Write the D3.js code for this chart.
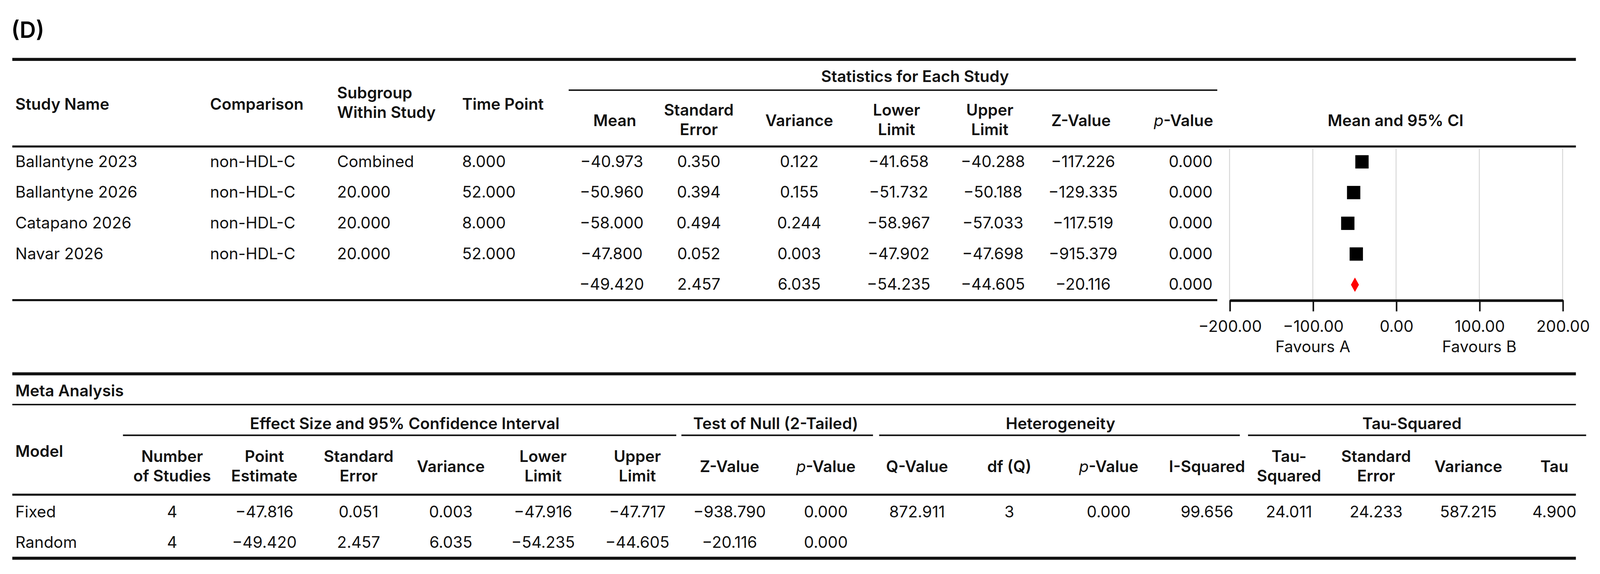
<!DOCTYPE html>
<html><head><meta charset="utf-8">
<script src="https://cdn.jsdelivr.net/npm/d3@7"></script>
<style>body{margin:0;background:#fff}text{font-family:Inter,"Liberation Sans",sans-serif}</style>
</head><body>
<script>
// study data
var studyNames = ["Ballantyne 2023","Ballantyne 2026","Catapano 2026","Navar 2026"];
var comparisons = ["non-HDL-C","non-HDL-C","non-HDL-C","non-HDL-C"];
var subgroups = ["Combined","20.000","20.000","20.000"];
var timePoints = ["8.000","52.000","8.000","52.000"];
var means = [-40.973,-50.960,-58.000,-47.800,-49.420];
var stdErrs = [0.350,0.394,0.494,0.052,2.457];
var variances = [0.122,0.155,0.244,0.003,6.035];
var lowers = [-41.658,-51.732,-58.967,-47.902,-54.235];
var uppers = [-40.288,-50.188,-57.033,-47.698,-44.605];
var zValues = [-117.226,-129.335,-117.519,-915.379,-20.116];
var pValues = [0.000,0.000,0.000,0.000,0.000];
var axisTicks = [-200,-100,0,100,200];

// meta analysis data
var models = ["Fixed","Random"];
var metaRows = [
  ["4","\u221247.816","0.051","0.003","\u221247.916","\u221247.717","\u2212938.790","0.000","872.911","3","0.000","99.656","24.011","24.233","587.215","4.900"],
  ["4","\u221249.420","2.457","6.035","\u221254.235","\u221244.605","\u221220.116","0.000","","","","","","","",""]
];

var W = 1568, H = 560.4;
var svg = d3.select("body").append("svg")
  .attr("width",4113).attr("height",1470)
  .attr("viewBox","0 0 "+W+" "+H);

var fs = 15.5;
function txt(x,y,s,anchor,bold,color){
  return svg.append("text").attr("x",x).attr("y",y)
    .attr("text-anchor",anchor||"start")
    .attr("font-size",fs).attr("font-weight",bold?600:400)
    .attr("fill",color||"#111").text(s);
}
function ptxt(x,y,rest,anchor,bold){
  var t = txt(x,y,"",anchor,bold);
  t.append("tspan").attr("font-style","italic").attr("font-weight",400).text("p");
  t.append("tspan").text(rest);
  return t;
}
function hline(x1,x2,y,w){
  svg.append("line").attr("x1",x1).attr("x2",x2).attr("y1",y).attr("y2",y)
    .attr("stroke","#111").attr("stroke-width",w);
}
var fmt = d3.format(".3f");

svg.append("text").attr("x",11).attr("y",37).attr("font-size",22).attr("font-weight",600).text("(D)");

// Top table
//-----------
hline(12,1538,58,3);
txt(893,80,"Statistics for Each Study","middle",true);
hline(555,1188,88,1.5);
txt(15,107,"Study Name","start",true);
txt(205,107,"Comparison","start",true);
txt(329,96,"Subgroup","start",true);
txt(329,115,"Within Study","start",true);
txt(451,107,"Time Point","start",true);
txt(600,123,"Mean","middle",true);
txt(682,113,"Standard","middle",true); txt(682,132,"Error","middle",true);
txt(780,123,"Variance","middle",true);
txt(875,113,"Lower","middle",true); txt(875,132,"Limit","middle",true);
txt(966,113,"Upper","middle",true); txt(966,132,"Limit","middle",true);
txt(1055,123,"Z-Value","middle",true);
ptxt(1155,123,"-Value","middle",true);
txt(1362,123,"Mean and 95% CI","middle",true);
hline(12,1538,143,2);

var rowY = function(i){ return 163 + i*30; };
means.forEach(function(m,i){
  var y = rowY(i);
  if (i < studyNames.length){
    txt(15,y,studyNames[i]);
    txt(205,y,comparisons[i]);
    txt(329,y,subgroups[i]);
    txt(451,y,timePoints[i]);
  }
  txt(597,y,fmt(m),"middle");
  txt(682,y,fmt(stdErrs[i]),"middle");
  txt(780,y,fmt(variances[i]),"middle");
  txt(877,y,fmt(lowers[i]),"middle");
  txt(969,y,fmt(uppers[i]),"middle");
  txt(1057,y,fmt(zValues[i]),"middle");
  txt(1162,y,fmt(pValues[i]),"middle");
});
hline(12,1188,293,2);

// Forest plot
//-------------
var x = d3.scaleLinear().domain([-200,200]).range([1200,1525]);
svg.append("g").selectAll("line").data(axisTicks).join("line")
  .attr("x1",d=>x(d)).attr("x2",d=>x(d)).attr("y1",145).attr("y2",293)
  .attr("stroke","#d9d9d9").attr("stroke-width",1);
var ax = svg.append("g").attr("transform","translate(0,293)")
  .call(d3.axisBottom(x).tickValues(axisTicks).tickFormat(d3.format(".2f")).tickSize(11).tickSizeOuter(0));
ax.select(".domain").attr("stroke","#111").attr("stroke-width",2.5);
ax.selectAll(".tick line").attr("stroke","#111").attr("stroke-width",1.5);
ax.selectAll(".tick text").attr("font-size",fs).attr("fill","#111").attr("dy","1.1em")
  .attr("font-family","Inter,'Liberation Sans',sans-serif");
txt(x(-100),344,"Favours A","middle");
txt(x(100),344,"Favours B","middle");

var sq = 13;
svg.append("g").selectAll("rect").data(means.slice(0,4)).join("rect")
  .attr("x",d=>x(d)-sq/2).attr("y",(d,i)=>rowY(i)-5-sq/2)
  .attr("width",sq).attr("height",sq).attr("fill","#000");
var dy = rowY(4)-5;
svg.append("path")
  .attr("d","M"+x(lowers[4])+","+dy+"L"+x(means[4])+","+(dy-7)+"L"+x(uppers[4])+","+dy+"L"+x(means[4])+","+(dy+7)+"Z")
  .attr("fill","#f00");

// Meta analysis table
//---------------------
hline(12,1538,365,3);
txt(15,387,"Meta Analysis","start",true);
hline(12,1538,395,1.5);
txt(395,419,"Effect Size and 95% Confidence Interval","middle",true);
hline(120,660,425,1.5);
txt(757,419,"Test of Null (2-Tailed)","middle",true);
hline(665,852,425,1.5);
txt(1035,419,"Heterogeneity","middle",true);
hline(858,1210,425,1.5);
txt(1378,419,"Tau-Squared","middle",true);
hline(1218,1548,425,1.5);
txt(15,446,"Model","start",true);

var metaCols = [168,258,350,440,530,622,712,806,895,985,1082,1178,1258,1343,1433,1517];
var metaHeads = [["Number","of Studies"],["Point","Estimate"],["Standard","Error"],["Variance"],["Lower","Limit"],["Upper","Limit"],["Z-Value"],["p"],["Q-Value"],["df (Q)"],["p"],["I-Squared"],["Tau-","Squared"],["Standard","Error"],["Variance"],["Tau"]];
metaHeads.forEach(function(h,i){
  var cx = metaCols[i];
  if (h[0]==="p") ptxt(cx,461,"-Value","middle",true);
  else if (h.length===1) txt(cx,461,h[0],"middle",true);
  else { txt(cx,451,h[0],"middle",true); txt(cx,470,h[1],"middle",true); }
});
hline(12,1538,483,2);
metaRows.forEach(function(r,j){
  var y = 505 + j*30;
  txt(15,y,models[j]);
  r.forEach(function(v,i){ if (v) txt(metaCols[i],y,v,"middle"); });
});
hline(12,1538,545,3);
</script>
</body></html>
